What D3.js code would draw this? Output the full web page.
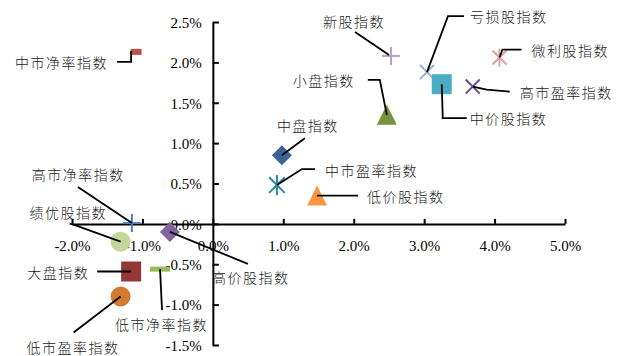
<!DOCTYPE html>
<html>
<head>
<meta charset="utf-8">
<script src="https://cdn.jsdelivr.net/npm/d3@7"></script>
<style>
  html, body { margin: 0; padding: 0; background: #fff; }
  svg { display: block; }
</style>
</head>
<body>
<svg id="chart" width="625" height="356"></svg>
<script>
// Index return scatter: x = horizontal-axis return (%), y = vertical-axis return (%)
const names = ["中市净率指数", "新股指数", "亏损股指数", "中价股指数", "微利股指数", "高市盈率指数",
  "小盘指数", "中盘指数", "中市盈率指数", "低价股指数", "高市净率指数", "绩优股指数",
  "高价股指数", "大盘指数", "低市净率指数", "低市盈率指数"];
const xValues = [-1.09, 2.53, 3.04, 3.25, 4.07, 3.69, 2.47, 0.98, 0.91, 1.48, -1.15, -1.31, -0.61, -1.16, -0.75, -1.31];
const yValues = [2.13, 2.08, 1.88, 1.73, 2.06, 1.70, 1.35, 0.85, 0.48, 0.35, 0.01, -0.22, -0.10, -0.59, -0.56, -0.90];

const xTicks = [-2, -1, 0, 1, 2, 3, 4, 5];
const xTickLabels = ["-2.0%", "-1.0%", "0.0%", "1.0%", "2.0%", "3.0%", "4.0%", "5.0%"];
const yTicks = [-1.5, -1, -0.5, 0, 0.5, 1, 1.5, 2, 2.5];
const yTickLabels = ["-1.5%", "-1.0%", "-0.5%", "0.0%", "0.5%", "1.0%", "1.5%", "2.0%", "2.5%"];

// Marker styling per series
const markerStyle = [
  { shape: "dash", color: "#c0504d", w: 11, h: 6 },
  { shape: "plus", color: "#b3a2c7", r: 9 },
  { shape: "cross", color: "#95b3d7", r: 9 },
  { shape: "square", color: "#4bacc6", r: 10 },
  { shape: "star", color: "#dea09e", r: 9 },
  { shape: "cross", color: "#664d8f", r: 9 },
  { shape: "triangle", color: "#77933c", r: 10 },
  { shape: "diamond", color: "#3b6397", r: 10 },
  { shape: "star", color: "#31859c", r: 10 },
  { shape: "triangle", color: "#f79646", r: 10 },
  { shape: "plus", color: "#4f81bd", r: 9 },
  { shape: "circle", color: "#c3d69b", r: 10 },
  { shape: "diamond", color: "#8064a2", r: 10 },
  { shape: "square", color: "#953735", r: 10 },
  { shape: "dash", color: "#9bbb59", w: 20, h: 5 },
  { shape: "circle", color: "#d27b2f", r: 10 }
];

// Label placement relative to each marker: text start offset and leader polyline
const labelLayout = [
  { dx: -121, dy: 10, leader: [[-19, 10], [-5, 10], [-5, -1]] },
  { dx: -68, dy: -35, leader: [[-36, -24], [-2, -1]] },
  { dx: 43, dy: -56, leader: [[37, -56], [21, -56], [0, 0]] },
  { dx: 28, dy: 34, leader: [[0, 0], [1, 34], [25, 34]] },
  { dx: 32, dy: -8, leader: [[0, 0], [3, -8], [22, -8]] },
  { dx: 47, dy: 5, leader: [[0, 0], [14, 3], [37, 5]] },
  { dx: -94, dy: -35, leader: [[0, 0], [-7, -35], [-19, -35]] },
  { dx: -5, dy: -30, leader: [[0, 0], [23, -17]] },
  { dx: 48, dy: -15, leader: [[0, 0], [25, -16], [38, -16]] },
  { dx: 50, dy: 0, leader: [[0, 0], [41, 0]] },
  { dx: -100, dy: -49, leader: [[-54, -36], [0, 0]] },
  { dx: -91, dy: -30, leader: [[-51, -18], [-47, -17], [0, 0]] },
  { dx: 42, dy: 45, leader: [[0, 0], [78, 32]] },
  { dx: -104, dy: 0, leader: [[-34, 0], [0, 0]] },
  { dx: -45, dy: 55, leader: [[0, 0], [2, 41]] },
  { dx: -94, dy: 50, leader: [[-47, 36], [0, 0]] }
];

const data = names.map((n, i) => ({ name: n, x: xValues[i], y: yValues[i], style: markerStyle[i], layout: labelLayout[i] }));

const svg = d3.select("#chart");
const x = d3.scaleLinear().domain([-2, 5]).range([72, 565]);
const y = d3.scaleLinear().domain([-1.5, 2.5]).range([345, 22]);

const tickFont = "'Liberation Serif', 'Times New Roman', serif";
const cjkFont = "'Noto Sans CJK SC', 'Noto Sans CJK JP', sans-serif";

// X axis through y = 0, ticks pointing up, labels below
const xAxis = svg.append("g")
  .attr("transform", `translate(0,${y(0)})`)
  .call(d3.axisBottom(x).tickValues(xTicks).tickFormat((d, i) => xTickLabels[i])
    .tickSizeInner(-5).tickSizeOuter(0).tickPadding(0));
xAxis.select(".domain").attr("stroke", "#000").attr("stroke-width", 2);
xAxis.selectAll(".tick line").attr("stroke", "#000").attr("stroke-width", 2);
xAxis.selectAll(".tick text").attr("y", 22).attr("dy", "0.35em")
  .attr("font-family", tickFont).attr("font-size", 15).attr("fill", "#000");

// Y axis through x = 0, ticks pointing right, labels left
const yAxis = svg.append("g")
  .attr("transform", `translate(${x(0)},0)`)
  .call(d3.axisLeft(y).tickValues(yTicks).tickFormat((d, i) => yTickLabels[i])
    .tickSizeInner(-6).tickSizeOuter(0).tickPadding(11));
yAxis.select(".domain").attr("stroke", "#000").attr("stroke-width", 2);
yAxis.selectAll(".tick line").attr("stroke", "#000").attr("stroke-width", 2);
yAxis.selectAll(".tick text").attr("dy", "0.35em")
  .attr("font-family", tickFont).attr("font-size", 15).attr("fill", "#000");

// Markers
const marks = svg.append("g").selectAll("g").data(data).join("g")
  .attr("transform", d => `translate(${x(d.x)},${y(d.y)})`);

marks.each(function (d) {
  const g = d3.select(this), s = d.style;
  if (s.shape === "square") {
    g.append("rect").attr("x", -s.r).attr("y", -s.r).attr("width", 2 * s.r).attr("height", 2 * s.r).attr("fill", s.color);
  } else if (s.shape === "dash") {
    g.append("rect").attr("x", -s.w / 2).attr("y", -s.h / 2).attr("width", s.w).attr("height", s.h).attr("fill", s.color);
  } else if (s.shape === "circle") {
    g.append("circle").attr("r", s.r).attr("fill", s.color);
  } else if (s.shape === "diamond") {
    g.append("path").attr("d", `M0,${-s.r}L${s.r},0L0,${s.r}L${-s.r},0Z`).attr("fill", s.color);
  } else if (s.shape === "triangle") {
    g.append("path").attr("d", `M0,${-s.r}L${s.r},${s.r}L${-s.r},${s.r}Z`).attr("fill", s.color);
  } else {
    const r = s.r, k = r * 0.78;
    let segs = [];
    if (s.shape === "plus") segs = [[-r, 0, r, 0], [0, -r, 0, r]];
    if (s.shape === "cross") segs = [[-k, -k, k, k], [-k, k, k, -k]];
    if (s.shape === "star") segs = [[-k, -k, k, k], [-k, k, k, -k], [0, -r, 0, r]];
    g.selectAll("line").data(segs).join("line")
      .attr("x1", e => e[0]).attr("y1", e => e[1]).attr("x2", e => e[2]).attr("y2", e => e[3])
      .attr("stroke", s.color).attr("stroke-width", 2);
  }
});

// Leader lines
const line = d3.line();
svg.append("g").selectAll("path").data(data).join("path")
  .attr("d", d => line(d.layout.leader.map(p => [x(d.x) + p[0], y(d.y) + p[1]])))
  .attr("fill", "none").attr("stroke", "#000").attr("stroke-width", 1.8);

// Series labels
svg.append("g").selectAll("text").data(data).join("text")
  .attr("x", d => x(d.x) + d.layout.dx)
  .attr("y", d => y(d.y) + d.layout.dy)
  .attr("dominant-baseline", "central")
  .attr("font-family", cjkFont).attr("font-size", 14).attr("font-weight", 300).attr("letter-spacing", 1.5)
  .attr("fill", "#1a1a1a")
  .text(d => d.name);
</script>
</body>
</html>
